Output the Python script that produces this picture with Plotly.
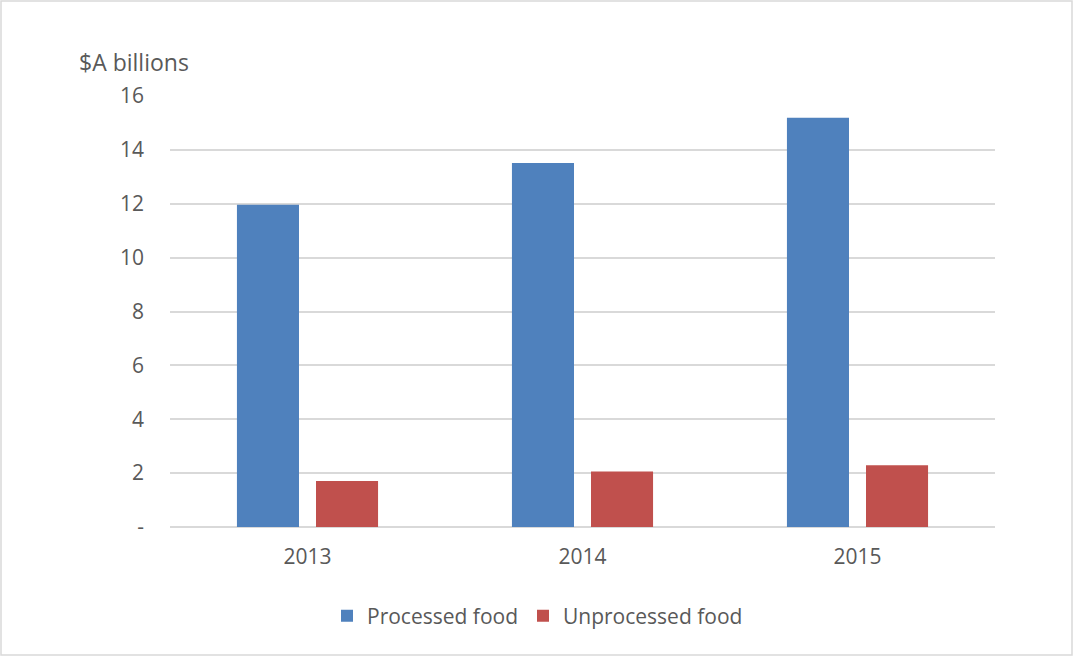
import plotly.graph_objects as go

years = ["2013", "2014", "2015"]
processed = [11.96, 13.51, 15.19]
unprocessed = [1.71, 2.06, 2.29]
y_ticks = [0, 2, 4, 6, 8, 10, 12, 14, 16]
y_tick_labels = ["-", "2", "4", "6", "8", "10", "12", "14", "16"]

W, H = 1074, 657
L, R, T, B = 170, 79, 96, 130
pw, ph = W - L - R, H - T - B

def px_x(px):
    return (px - L) / pw

def px_y(py):
    return (H - B - py) / ph

font_family = "Open Sans, Liberation Sans, sans-serif"
text_color = "#595959"

fig = go.Figure()
fig.add_trace(go.Bar(x=years, y=processed, name="Processed food",
                     marker=dict(color="#4F81BD", line=dict(width=0))))
fig.add_trace(go.Bar(x=years, y=unprocessed, name="Unprocessed food",
                     marker=dict(color="#C0504D", line=dict(width=0))))

fig.update_layout(
    width=W, height=H,
    margin=dict(l=L, r=R, t=T, b=B, pad=0),
    paper_bgcolor="white", plot_bgcolor="white",
    barmode="group", bargap=0.425, bargroupgap=0.215,
    font=dict(family=font_family, size=21, color=text_color),
    showlegend=True,
    legend=dict(orientation="h", x=px_x(327), xanchor="left",
                y=px_y(616), yanchor="middle",
                font=dict(size=21, color=text_color),
                itemclick=False, bgcolor="rgba(0,0,0,0)"),
    xaxis=dict(showgrid=False, showline=False, zeroline=False,
               ticks="", ticklabelstandoff=15,
               tickfont=dict(size=21, color=text_color)),
    yaxis=dict(range=[0, 16], tickvals=y_ticks, ticktext=y_tick_labels,
               showgrid=True, gridcolor="#d9d9d9", gridwidth=1.5,
               zeroline=True, zerolinecolor="#d9d9d9", zerolinewidth=1.5,
               showline=False, ticks="", ticklabelstandoff=25,
               tickfont=dict(size=21, color=text_color)),
    annotations=[dict(text="$A billions", x=px_x(77), y=px_y(62),
                      xref="paper", yref="paper", xanchor="left",
                      yanchor="middle", showarrow=False,
                      font=dict(size=23, color=text_color))],
    shapes=[dict(type="rect", xref="paper", yref="paper",
                 x0=px_x(1), x1=px_x(1072), y0=px_y(655), y1=px_y(1),
                 line=dict(color="#d9d9d9", width=1.5))],
)

fig.write_html("out.html")
